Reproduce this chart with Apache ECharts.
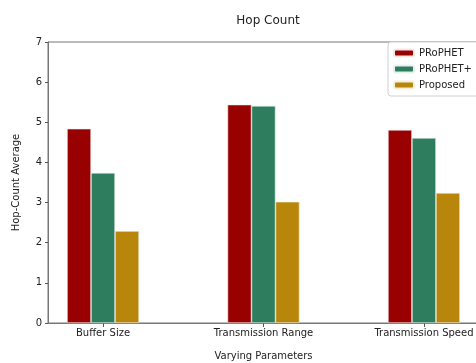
<!DOCTYPE html>
<html>
<head>
<meta charset="utf-8">
<script src="https://cdn.jsdelivr.net/npm/echarts@6/dist/echarts.min.js"></script>
<style>
  html, body { margin: 0; padding: 0; background: #fff; }
  #chart { width: 476px; height: 363px; }
</style>
</head>
<body>
<div id="chart"></div>
<script>
// Categories and series values
const categories = ['Buffer Size', 'Transmission Range', 'Transmission Speed'];
const prophet = [4.84, 5.44, 4.81];
const prophetPlus = [3.74, 5.41, 4.61];
const proposed = [2.29, 3.02, 3.24];
const yTicks = [0, 1, 2, 3, 4, 5, 6, 7];

const FONT = 'DejaVu Sans';
const chart = echarts.init(document.getElementById('chart'), null, { renderer: 'canvas' });

function toPoints(values) {
  return values.map((v, i) => [i, v]);
}

const option = {
  backgroundColor: '#fff',
  animation: false,
  textStyle: { fontFamily: FONT },
  title: {
    text: 'Hop Count',
    left: 263, top: 10, textAlign: 'center',
    textStyle: { fontFamily: FONT, fontSize: 12, fontWeight: 'normal', color: '#222' }
  },
  legend: {
    orient: 'vertical',
    left: 388, top: 42,
    itemWidth: 20, itemHeight: 7, itemGap: 6,
    padding: [6, 8, 6, 5],
    borderColor: '#d0d0d0', borderWidth: 1, borderRadius: 3,
    backgroundColor: '#fff',
    textStyle: { fontFamily: FONT, fontSize: 10, color: '#222' },
    data: ['PRoPHET', 'PRoPHET+', 'Proposed']
  },
  grid: {
    left: 48, top: 42, width: 431, height: 281,
    outerBoundsMode: 'none', containLabel: false,
    show: true, borderColor: '#777', borderWidth: 1, backgroundColor: 'transparent'
  },
  xAxis: {
    type: 'value',
    min: -0.343, max: 2.343,
    name: 'Varying Parameters', nameLocation: 'middle', nameGap: 28,
    nameTextStyle: { fontFamily: FONT, fontSize: 10, color: '#222' },
    axisLine: { show: true, onZero: false, lineStyle: { color: '#777' } },
    axisTick: { show: true, length: 4, lineStyle: { color: '#555' }, customValues: [0, 1, 2] },
    axisLabel: {
      customValues: [0, 1, 2],
      fontFamily: FONT, fontSize: 10, color: '#222', margin: 5,
      formatter: v => categories[Math.round(v)]
    },
    splitLine: { show: false }
  },
  yAxis: {
    type: 'value',
    min: 0, max: 7, interval: 1,
    name: 'Hop-Count Average', nameLocation: 'middle', nameGap: 27,
    nameTextStyle: { fontFamily: FONT, fontSize: 10, color: '#222' },
    axisLine: { show: true, onZero: false, lineStyle: { color: '#777' } },
    axisTick: { show: true, length: 3, lineStyle: { color: '#555' } },
    axisLabel: { fontFamily: FONT, fontSize: 10, color: '#222', margin: 6,
      formatter: v => yTicks.includes(v) ? String(v) : '' },
    splitLine: { show: false }
  },
  series: [
    { name: 'PRoPHET', type: 'bar', data: toPoints(prophet), barWidth: 24, barGap: '0%',
      itemStyle: { color: '#990000', borderColor: '#f0e8e8', borderWidth: 0.6 } },
    { name: 'PRoPHET+', type: 'bar', data: toPoints(prophetPlus), barWidth: 24, barGap: '0%',
      itemStyle: { color: '#2e7d5e', borderColor: '#e8f0ec', borderWidth: 0.6 } },
    { name: 'Proposed', type: 'bar', data: toPoints(proposed), barWidth: 24, barGap: '0%',
      itemStyle: { color: '#b8860b', borderColor: '#f4eedc', borderWidth: 0.6 } }
  ]
};

chart.setOption(option);
</script>
</body>
</html>
